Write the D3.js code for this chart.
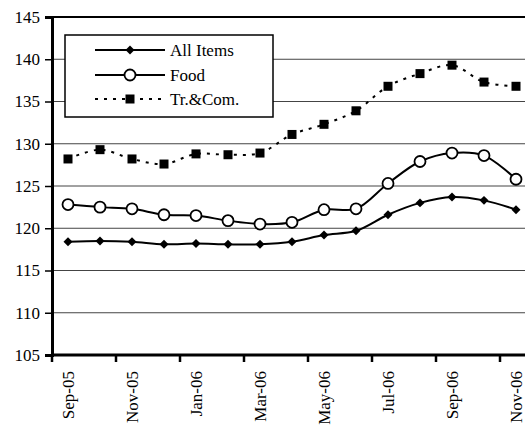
<!DOCTYPE html>
<html><head><meta charset="utf-8">
<script src="https://cdn.jsdelivr.net/npm/d3@7"></script>
<style>body{margin:0;background:#fff}svg{display:block}</style>
</head><body>
<svg id="c" width="525" height="432"></svg>
<script>
const months = ["Sep-05","Oct-05","Nov-05","Dec-05","Jan-06","Feb-06","Mar-06","Apr-06","May-06","Jun-06","Jul-06","Aug-06","Sep-06","Oct-06","Nov-06"];
const allItems = [118.4,118.5,118.4,118.1,118.2,118.1,118.1,118.4,119.2,119.7,121.6,123.0,123.7,123.3,122.2];
const food = [122.8,122.5,122.3,121.6,121.5,120.9,120.5,120.7,122.2,122.3,125.3,127.9,128.9,128.6,125.8];
const trCom = [128.2,129.3,128.2,127.6,128.8,128.7,128.9,131.1,132.3,133.9,136.8,138.3,139.3,137.3,136.8];
const yTicks = [105,110,115,120,125,130,135,140,145];
const seriesNames = ["All Items","Food","Tr.&Com."];

const svg = d3.select("#c");
const FONT = '"Liberation Serif", monospace';
const FS = "17px";
const L = 52, T = 17, B = 355, R = 532;
const x = d3.scaleBand().domain(months).range([L, R]);
const y = d3.scaleLinear().domain([105,145]).range([B, T]);

// gridlines
svg.append("g").selectAll("line").data(yTicks.filter(v=>v>105 && v<145)).join("line")
  .attr("x1", L).attr("x2", 525).attr("y1", d=>y(d)).attr("y2", d=>y(d))
  .attr("stroke", "#444").attr("stroke-width", 1);
svg.append("line").attr("x1", L).attr("x2", 525).attr("y1", y(145)).attr("y2", y(145))
  .attr("stroke", "#000").attr("stroke-width", 2);

// y axis
const yAxis = svg.append("g").attr("transform", `translate(${L},0)`)
  .call(d3.axisLeft(y).tickValues(yTicks).tickSize(7).tickPadding(5).tickFormat(d3.format("d")));
yAxis.attr("font-family", FONT).attr("font-size", 17);
yAxis.select(".domain").attr("stroke-width", 3);
yAxis.selectAll(".tick line").attr("stroke-width", 1.5);
yAxis.selectAll("text").style("font-family", FONT).style("font-size", FS).attr("fill", "#000");

// x axis
const xAxis = svg.append("g").attr("transform", `translate(0,${B})`)
  .call(d3.axisBottom(x).tickValues(months.filter((m,i)=>i%2===0)).tickSize(0).tickFormat(d=>d));
xAxis.attr("font-family", FONT).attr("font-size", 17);
xAxis.select(".domain").attr("stroke-width", 3).attr("d", `M${L},0H${R}`);
xAxis.selectAll(".tick text")
  .style("font-family", FONT).style("font-size", FS).attr("fill", "#000")
  .attr("transform", "rotate(-90)").attr("text-anchor", "end")
  .attr("x", -16).attr("y", 0).attr("dy", "0.35em");
xAxis.selectAll(".tick").append("line")
  .attr("x1", -x.bandwidth()/2).attr("x2", -x.bandwidth()/2).attr("y1", 0).attr("y2", 7)
  .attr("stroke", "#000").attr("stroke-width", 2.5);

const cx = d => x(d) + x.bandwidth()/2;
const line = d3.line().x((d,i)=>cx(months[i])).y(d=>y(d)).curve(d3.curveCatmullRom.alpha(0.5));

// Tr.&Com.
svg.append("path").datum(trCom).attr("d", line).attr("fill","none")
  .attr("stroke","#000").attr("stroke-width",2).attr("stroke-dasharray","3,6");
svg.append("g").selectAll("rect").data(trCom).join("rect")
  .attr("x",(d,i)=>cx(months[i])-4.5).attr("y",d=>y(d)-4.5).attr("width",9).attr("height",9).attr("fill","#000");

// All Items
svg.append("path").datum(allItems).attr("d", line).attr("fill","none")
  .attr("stroke","#000").attr("stroke-width",2);
svg.append("g").selectAll("path").data(allItems).join("path")
  .attr("transform",(d,i)=>`translate(${cx(months[i])},${y(d)}) rotate(45)`)
  .attr("d", d3.symbol().type(d3.symbolSquare).size(40)).attr("fill","#000");

// Food
svg.append("path").datum(food).attr("d", line).attr("fill","none")
  .attr("stroke","#000").attr("stroke-width",2);
svg.append("g").selectAll("circle").data(food).join("circle")
  .attr("cx",(d,i)=>cx(months[i])).attr("cy",d=>y(d)).attr("r",5.5)
  .attr("fill","#fff").attr("stroke","#000").attr("stroke-width",1.8);

// legend
const lg = svg.append("g");
lg.append("rect").attr("x",65).attr("y",35).attr("width",208).attr("height",82)
  .attr("fill","#fff").attr("stroke","#000").attr("stroke-width",1.5);
const ly = [50, 75, 99];
seriesNames.forEach((n,i)=>{
  const g = lg.append("g").attr("transform",`translate(0,${ly[i]})`);
  g.append("line").attr("x1",95).attr("x2",165).attr("y1",0).attr("y2",0)
    .attr("stroke","#000").attr("stroke-width",2).attr("stroke-dasharray", i===2 ? "3,6" : null);
  if(i===0) g.append("path").attr("transform","translate(130,0) rotate(45)").attr("d", d3.symbol().type(d3.symbolSquare).size(40)).attr("fill","#000");
  if(i===1) g.append("circle").attr("cx",130).attr("cy",0).attr("r",5.5).attr("fill","#fff").attr("stroke","#000").attr("stroke-width",1.8);
  if(i===2) g.append("rect").attr("x",125.5).attr("y",-4.5).attr("width",9).attr("height",9).attr("fill","#000");
  g.append("text").attr("x",170).attr("y",0).attr("dy","0.35em")
    .style("font-family",FONT).style("font-size",FS).attr("fill","#000").text(n);
});
</script>
</body></html>
